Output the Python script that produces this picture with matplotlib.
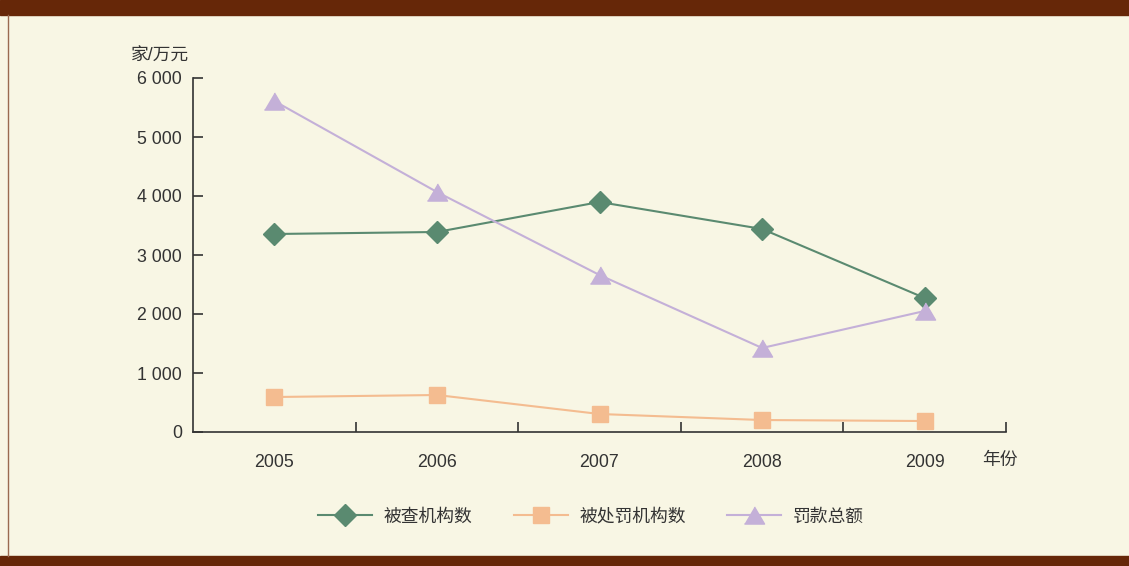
import matplotlib.pyplot as plt
from matplotlib.lines import Line2D
from matplotlib.patches import Rectangle
from matplotlib.ticker import FuncFormatter

plt.rcParams['font.family'] = ['Liberation Sans', 'Noto Sans CJK SC']

years = ['2005', '2006', '2007', '2008', '2009']
inspected = [3356, 3390, 3898, 3441, 2271]
punished = [593, 627, 305, 203, 186]
fines = [5610, 4068, 2661, 1424, 2051]
labels = ['被查机构数', '被处罚机构数', '罚款总额']

bg = '#f8f6e4'
brown = '#662708'
axis_col = '#333333'

W, H = 1129, 566
fig = plt.figure(figsize=(W / 100, H / 100), dpi=100, facecolor=bg)

# top / bottom bands and left border
fig.patches.append(Rectangle((0, 1 - 15 / H), 1, 15 / H, transform=fig.transFigure,
                             color=brown, zorder=0))
fig.patches.append(Rectangle((0, 0), 1, 10 / H, transform=fig.transFigure,
                             color=brown, zorder=0))
fig.lines.append(Line2D([8 / W, 8 / W], [10 / H, 1 - 15 / H], transform=fig.transFigure,
                        color='#9a6a50', lw=1))

ax = fig.add_axes([193 / W, 1 - 432 / H, (1006 - 193) / W, (432 - 78) / H])
ax.set_facecolor(bg)

x = list(range(len(years)))
tri = [(-1, -0.85), (1, -0.85), (0, 0.85)]
ax.plot(x, inspected, color='#5a8a70', lw=1.5, marker='D', ms=11.5, label=labels[0], zorder=3)
ax.plot(x, punished, color='#f4bc90', lw=1.5, marker='s', ms=11, label=labels[1], zorder=3)
ax.plot(x, fines, color='#c4b0d8', lw=1.5, marker=tri, ms=14.5, label=labels[2], zorder=3)

ax.set_xlim(-0.5, len(years) - 0.5)
ax.set_ylim(0, 6000)
ax.set_yticks(range(0, 6001, 1000))
ax.yaxis.set_major_formatter(FuncFormatter(lambda v, p: f'{int(v):,}'.replace(',', ' ')))
ax.set_xticks(x)
ax.set_xticklabels(years)
ax.set_xticks([i + 0.5 for i in x], minor=True)

for s in ['top', 'right']:
    ax.spines[s].set_visible(False)
for s in ['left', 'bottom']:
    ax.spines[s].set_color(axis_col)
    ax.spines[s].set_linewidth(1.2)

ax.tick_params(axis='y', direction='in', length=7, width=1.2, color=axis_col,
               labelsize=12.8, labelcolor=axis_col, pad=8)
ax.tick_params(axis='x', which='major', length=0, labelsize=12.8, labelcolor=axis_col, pad=15.5)
ax.tick_params(axis='x', which='minor', direction='in', length=7, width=1.2, color=axis_col)

fig.text(160 / W, 1 - 56 / H, '家/万元', ha='center', va='center', fontsize=12.8, color=axis_col)
fig.text(1000 / W, 1 - 460 / H, '年份', ha='center', va='center', fontsize=12.8, color=axis_col)

fig.legend(loc='center', bbox_to_anchor=(591 / W, 1 - 517 / H), ncol=3, frameon=False,
           fontsize=12.8, handlelength=3.05, handletextpad=0.67, columnspacing=2.3,
           labelcolor=axis_col)

fig.savefig('out.png', dpi=100, facecolor=bg)
